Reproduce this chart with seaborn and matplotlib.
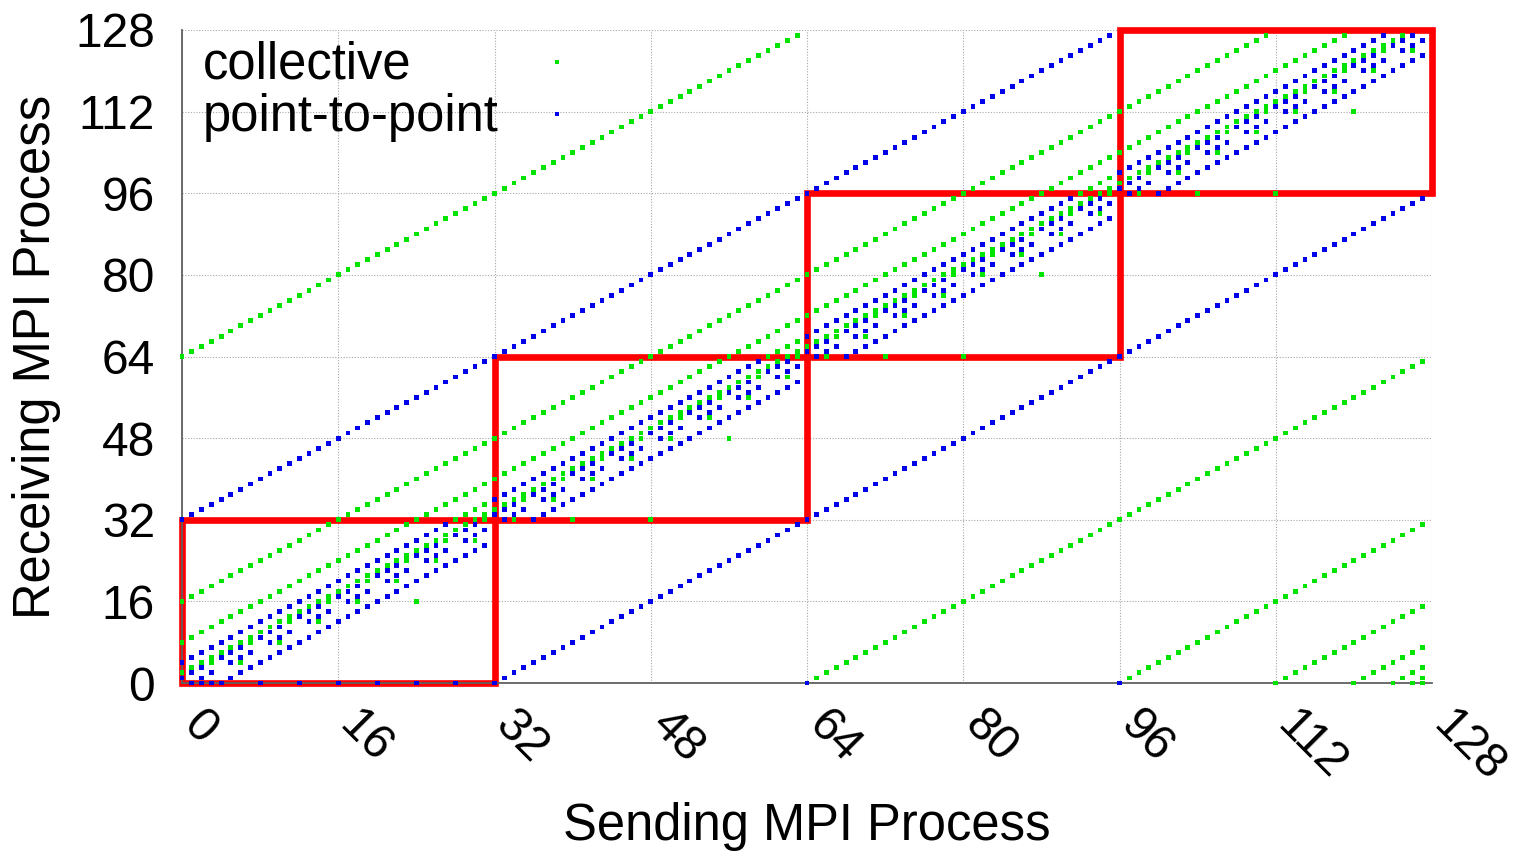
import matplotlib
matplotlib.use("Agg")
import matplotlib.pyplot as plt
import matplotlib.transforms as mtransforms
from matplotlib.patches import Rectangle
import pandas as pd
import seaborn as sns

# ---- communication pattern of the 128-rank run -------------------------
n_ranks = 128
node_size = 32
node_starts = [0, 32, 64, 96]                      # one red box per node
collective_shifts = [1, 2, 4, 8, 16, 32, 64]       # ring exchanges (rank + shift) mod N
grid_dims = [4, 8, 4]                              # 3-D halo grid, x fastest
grid_strides = [1, 4, 32]
root_gather_senders = [1, 2, 3, 4, 8, 12, 16, 20, 24, 28, 32, 64, 96]
tick_values = [0, 16, 32, 48, 64, 80, 96, 112, 128]
series_names = ["collective", "point-to-point"]
series_colors = ["#00e400", "#0000ea"]


def collective_pairs():
    pairs = set()
    for s in range(n_ranks):
        for k in collective_shifts:
            pairs.add((s, (s + k) % n_ranks))
        if s:  # binomial-tree reduction towards rank 0
            pairs.add((s, s - (s & -s)))
    return sorted(pairs)


def p2p_pairs():
    pairs = set()
    for s in range(n_ranks):
        coords = [s % grid_dims[0], (s // grid_strides[1]) % grid_dims[1], s // grid_strides[2]]
        for d in range(3):
            for step in (-1, 1):
                c = coords[d] + step
                if 0 <= c < grid_dims[d]:
                    pairs.add((s, s + step * grid_strides[d]))
    for s in root_gather_senders:
        pairs.add((s, 0))
    return sorted(pairs)


rows = [(s, r, series_names[0]) for s, r in collective_pairs()]
rows += [(s, r, series_names[1]) for s, r in p2p_pairs()]
df = pd.DataFrame(rows, columns=["sender", "receiver", "kind"])

# ---- figure ---------------------------------------------------------------
sns.set_style("white")
plt.rcParams["font.family"] = ["Liberation Sans", "DejaVu Sans"]
plt.rcParams["text.color"] = "black"
plt.rcParams["axes.labelcolor"] = "black"

fig = plt.figure(figsize=(15.16, 8.57), dpi=100)
ax = fig.add_axes([0.1201, 0.2030, 0.8245, 0.762])

# node boxes
for start in node_starts:
    ax.add_patch(Rectangle((start, start), node_size, node_size, fill=False,
                           edgecolor="#ff0000", linewidth=4.8, zorder=2,
                           clip_on=False, joinstyle="miter"))

sns.scatterplot(data=df, x="sender", y="receiver", hue="kind",
                hue_order=series_names, palette=series_colors,
                marker="s", s=12, linewidth=0, legend=False,
                ax=ax, zorder=3, clip_on=False)

ax.set_xlim(0, 128)
ax.set_ylim(0, 128)
ax.set_xticks(tick_values)
ax.set_yticks(tick_values)
ax.set_xticklabels([str(v) for v in tick_values])
ax.set_yticklabels([str(v) for v in tick_values])

ax.grid(True, color="#a8a8a8", linestyle=(0, (1, 1.5)), linewidth=0.8, zorder=0)
ax.set_axisbelow(True)

for side in ["top", "right"]:
    ax.spines[side].set_visible(False)
for side in ["left", "bottom"]:
    ax.spines[side].set_color("#606060")
    ax.spines[side].set_linewidth(1.3)

ax.tick_params(axis="both", direction="out", length=3, width=1,
               color="#606060", labelsize=34.5, labelcolor="black")
ax.tick_params(axis="x", pad=22)
ax.tick_params(axis="y", pad=16.5)

shift = mtransforms.ScaledTranslation(8 / 100, 0, fig.dpi_scale_trans)
for lab in ax.get_xticklabels():
    lab.set_rotation(-45)
    lab.set_horizontalalignment("left")
    lab.set_verticalalignment("center")
    lab.set_rotation_mode("anchor")
    lab.set_transform(lab.get_transform() + shift)

ax.set_xlabel("Sending MPI Process", fontsize=36.5)
ax.set_ylabel("Receiving MPI Process", fontsize=36.5)
ax.xaxis.set_label_coords(0.5, -0.182)
ax.yaxis.set_label_coords(-0.097, 0.5)

# key: label on the left, sample marker on the right
key_text_y = [0.925, 0.845]
key_mark_y = [0.951, 0.871]
for name, color, ty, my in zip(series_names, series_colors, key_text_y, key_mark_y):
    ax.text(0.0168, ty, name, transform=ax.transAxes, fontsize=36.5,
            va="baseline", ha="left", zorder=5)
    ax.plot([0.3], [my], marker="s", markersize=3.4, markeredgewidth=0,
            color=color, transform=ax.transAxes, zorder=5, clip_on=False)

fig.savefig("out.png", dpi=100)
